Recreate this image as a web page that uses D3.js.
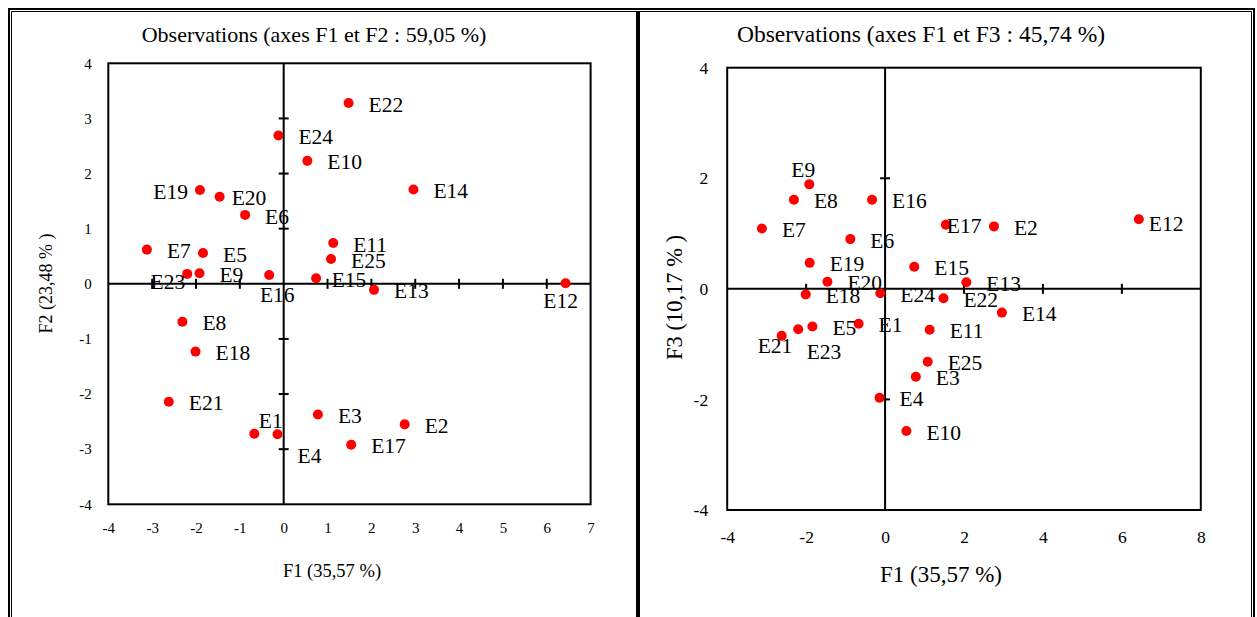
<!DOCTYPE html>
<html>
<head>
<meta charset="utf-8">
<script src="https://cdn.jsdelivr.net/npm/d3@7/dist/d3.min.js"></script>
<style>
  html, body { margin: 0; padding: 0; background: #fff; }
  svg { display: block; }
  text { font-family: "Liberation Serif", "Times New Roman", serif; fill: #000; }
</style>
</head>
<body>
<svg id="chart" width="1257" height="617"></svg>
<script>
// ---- Data ----
const ids = ["E1","E2","E3","E4","E5","E6","E7","E8","E9","E10","E11","E12","E13",
             "E14","E15","E16","E17","E18","E19","E20","E21","E22","E23","E24","E25"];
const f1 = [-0.67, 2.76, 0.78, -0.14, -1.84, -0.88, -3.12, -2.31, -1.92, 0.54, 1.13, 6.43, 2.06,
             2.96, 0.74, -0.33, 1.54, -2.01, -1.91, -1.46, -2.62, 1.48, -2.20, -0.12, 1.08];
const f2 = [-2.72, -2.55, -2.37, -2.73, 0.56, 1.25, 0.62, -0.69, 0.19, 2.23, 0.74, 0.01, -0.11,
             1.71, 0.10, 0.16, -2.92, -1.23, 1.70, 1.58, -2.14, 3.28, 0.18, 2.69, 0.45];
const f3 = [-0.63, 1.13, -1.59, -1.97, -0.68, 0.90, 1.09, 1.61, 1.89, -2.57, -0.74, 1.26, 0.12,
            -0.43, 0.40, 1.61, 1.16, -0.10, 0.47, 0.13, -0.85, -0.17, -0.73, -0.08, -1.32];

const leftXTicks  = [-4, -3, -2, -1, 0, 1, 2, 3, 4, 5, 6, 7];
const leftYTicks  = [-4, -3, -2, -1, 0, 1, 2, 3, 4];
const rightXTicks = [-4, -2, 0, 2, 4, 6, 8];
const rightYTicks = [-4, -2, 0, 2, 4];

const leftTitle  = "Observations (axes F1 et F2 : 59,05 %)";
const rightTitle = "Observations (axes F1 et F3 : 45,74 %)";
const leftXLabel  = "F1 (35,57 %)";
const leftYLabel  = "F2 (23,48 % )";
const rightXLabel = "F1 (35,57 %)";
const rightYLabel = "F3 (10,17 % )";

// ---- Layout (label placement: [anchor, dx, dy]) ----
const leftLabelPos = {
  E19: ["end", -12, 1.5], E20: ["start", 12, 1.5], E15: ["start", 15.5, 1.5],
  E23: ["end", -2, 8], E16: ["middle", 8, 20], E12: ["middle", -5, 18],
  E1: ["start", 4.5, -13], E4: ["start", 20, 22]
};
const rightLabelPos = {
  E9: ["middle", -6, -14], E17: ["start", 1, 1.5], E12: ["start", 10, 5],
  E23: ["start", 8.4, 23], E21: ["start", -24, 10]
};

const svg = d3.select("#chart");

// ---- Outer frame ----
const W = 1257;
svg.append("path").attr("d", `M9,617 V9 H1254 V617`).attr("fill","none").attr("stroke","#000").attr("stroke-width",2);
svg.append("path").attr("d", `M11.5,617 V11.5 H1251.5 V617`).attr("fill","none").attr("stroke","#000").attr("stroke-width",1);
svg.append("line").attr("x1",638).attr("x2",638).attr("y1",12).attr("y2",617).attr("stroke","#000").attr("stroke-width",4);

function panel(cfg) {
  const x = d3.scaleLinear().domain(cfg.xDomain).range(cfg.xRange);
  const y = d3.scaleLinear().domain(cfg.yDomain).range(cfg.yRange);
  const g = svg.append("g");
  const x0 = x(0), y0 = y(0);

  // frame
  g.append("rect")
    .attr("x", x.range()[0]).attr("y", y.range()[1])
    .attr("width", x.range()[1] - x.range()[0])
    .attr("height", y.range()[0] - y.range()[1])
    .attr("fill", "none").attr("stroke", "#000").attr("stroke-width", 2);

  // zero axes
  g.append("line").attr("x1", x.range()[0]).attr("x2", x.range()[1]).attr("y1", y0).attr("y2", y0)
    .attr("stroke", "#000").attr("stroke-width", 2);
  g.append("line").attr("x1", x0).attr("x2", x0).attr("y1", y.range()[1]).attr("y2", y.range()[0])
    .attr("stroke", "#000").attr("stroke-width", 2);

  // crossing ticks on zero axes
  const xt = cfg.xTicks.slice(1, -1).filter(v => v !== 0);
  const yt = cfg.yTicks.slice(1, -1).filter(v => v !== 0);
  g.selectAll(".xt").data(xt).enter().append("line")
    .attr("x1", d => x(d)).attr("x2", d => x(d)).attr("y1", y0 - 5).attr("y2", y0 + 5)
    .attr("stroke", "#000").attr("stroke-width", 2);
  g.selectAll(".yt").data(yt).enter().append("line")
    .attr("x1", x0 - 5).attr("x2", x0 + 5).attr("y1", d => y(d)).attr("y2", d => y(d))
    .attr("stroke", "#000").attr("stroke-width", 2);

  // tick labels via d3 axes
  const ax = g.append("g").attr("transform", `translate(0,${y.range()[0]})`)
    .call(d3.axisBottom(x).tickValues(cfg.xTicks).tickSize(0).tickPadding(cfg.xPad).tickFormat(d3.format("d")));
  const ay = g.append("g").attr("transform", `translate(${x.range()[0]},0)`)
    .call(d3.axisLeft(y).tickValues(cfg.yTicks).tickSize(0).tickPadding(cfg.yPad).tickFormat(d3.format("d")));
  [ax, ay].forEach(a => {
    a.select(".domain").remove();
    a.selectAll("text").attr("font-family", "Liberation Serif, Times New Roman, serif")
      .attr("font-size", cfg.tickFs).attr("fill", "#000")
      .text(d => String(d));
  });

  // title
  g.append("text").attr("x", cfg.titleX).attr("y", cfg.titleY).attr("text-anchor", "middle")
    .attr("font-size", cfg.titleFs).text(cfg.title);
  // x label
  g.append("text").attr("x", cfg.xLabX).attr("y", cfg.xLabY).attr("text-anchor", "middle")
    .attr("font-size", cfg.xLabFs).text(cfg.xLabel);
  // y label
  g.append("text").attr("transform", `translate(${cfg.yLabX},${cfg.yLabY}) rotate(-90)`)
    .attr("text-anchor", "middle").attr("font-size", cfg.yLabFs).text(cfg.yLabel);

  // points
  const data = ids.map((id, i) => ({ id, a: f1[i], b: cfg.ys[i] }));
  g.selectAll(".pt").data(data).enter().append("circle")
    .attr("cx", d => x(d.a)).attr("cy", d => y(d.b)).attr("r", 5).attr("fill", "#ff0000");
  const fs = 21.5;
  g.selectAll(".lb").data(data).enter().append("text")
    .attr("font-size", fs)
    .attr("text-anchor", d => (cfg.labelPos[d.id] || ["start"])[0])
    .attr("x", d => x(d.a) + (cfg.labelPos[d.id] || ["start", 20])[1])
    .attr("y", d => y(d.b) + (cfg.labelPos[d.id] || ["start", 20, 1.5])[2] + 0.331 * fs)
    .text(d => d.id);
}

panel({
  xDomain: [-4, 7], xRange: [108.3, 590.6],
  yDomain: [-4, 4], yRange: [504.3, 63.3],
  xTicks: leftXTicks, yTicks: leftYTicks, ys: f2,
  xPad: 18.5, yPad: 16.5, tickFs: 15,
  title: leftTitle, titleX: 314, titleY: 42, titleFs: 22,
  xLabel: leftXLabel, xLabX: 332, xLabY: 577, xLabFs: 18.5,
  yLabel: leftYLabel, yLabX: 52, yLabY: 283.5, yLabFs: 18,
  labelPos: leftLabelPos
});

panel({
  xDomain: [-4, 8], xRange: [727.2, 1200.8],
  yDomain: [-4, 4], yRange: [510, 67.7],
  xTicks: rightXTicks, yTicks: rightYTicks, ys: f3,
  xPad: 20.5, yPad: 19, tickFs: 17.5,
  title: rightTitle, titleX: 921, titleY: 42, titleFs: 23.5,
  xLabel: rightXLabel, xLabX: 941, xLabY: 582, xLabFs: 23,
  yLabel: rightYLabel, yLabX: 682, yLabY: 297.5, yLabFs: 22.5,
  labelPos: rightLabelPos
});
</script>
</body>
</html>
